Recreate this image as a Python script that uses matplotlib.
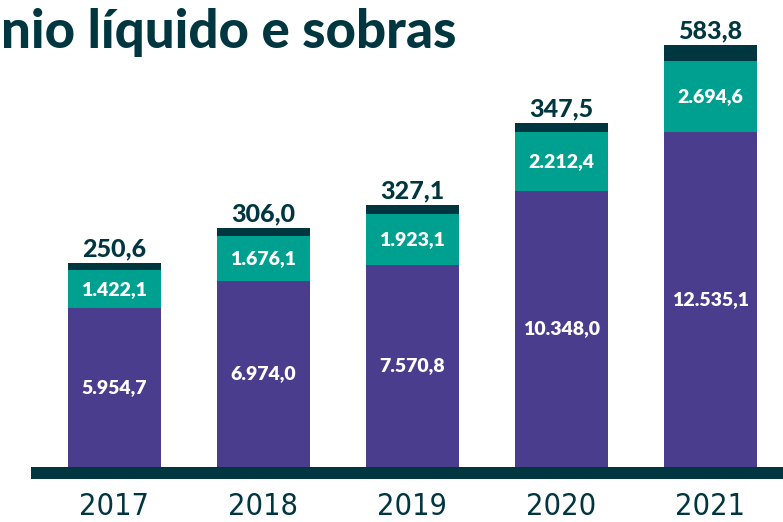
import matplotlib.pyplot as plt

# data (R$ milhões)
years = ["2017", "2018", "2019", "2020", "2021"]
patrimonio = [5954.7, 6974.0, 7570.8, 10348.0, 12535.1]
reservas = [1422.1, 1676.1, 1923.1, 2212.4, 2694.6]
sobras = [250.6, 306.0, 327.1, 347.5, 583.8]

purple = "#4b3d8e"
teal = "#00a091"
dark = "#003640"


def fmt(v):
    # brazilian number format: 12.535,1
    s = f"{v:,.1f}"
    return s.replace(",", "X").replace(".", ",").replace("X", ".")


fig = plt.figure(figsize=(7.83, 5.22), dpi=100)
ax = fig.add_axes([0, 0, 1, 1])

x = list(range(len(years)))
ax.bar(x, patrimonio, width=0.625, color=purple)
ax.bar(x, reservas, width=0.625, bottom=patrimonio, color=teal)
tops = [p + r for p, r in zip(patrimonio, reservas)]
ax.bar(x, sobras, width=0.625, bottom=tops, color=dark)

for i in x:
    ax.text(i, patrimonio[i] / 2, fmt(patrimonio[i]), ha="center", va="center",
            color="white", fontsize=14, fontweight=800, family="Lato")
    ax.text(i, patrimonio[i] + reservas[i] / 2, fmt(reservas[i]), ha="center",
            va="center", color="white", fontsize=14, fontweight=800, family="Lato")
    ax.text(i, tops[i] + sobras[i] + 100, fmt(sobras[i]), ha="center", va="bottom",
            color=dark, fontsize=18, fontweight=900, family="Lato")
    ax.text(i, -1480, years[i], ha="center", va="center", color=dark,
            fontsize=22, family="DejaVu Sans", fontstretch="condensed")

# baseline
ax.axhspan(-450, 0, xmin=31 / 783, xmax=1, color=dark, lw=0)

ax.text(-0.762, 16300, "nio líquido e sobras", ha="left", va="center",
        color=dark, fontsize=38, fontweight=900, family="Lato")

ax.set_xlim(-0.768, 4.487)
ax.set_ylim(-2061, 17500)
ax.axis("off")

fig.savefig("out.png", dpi=100)
